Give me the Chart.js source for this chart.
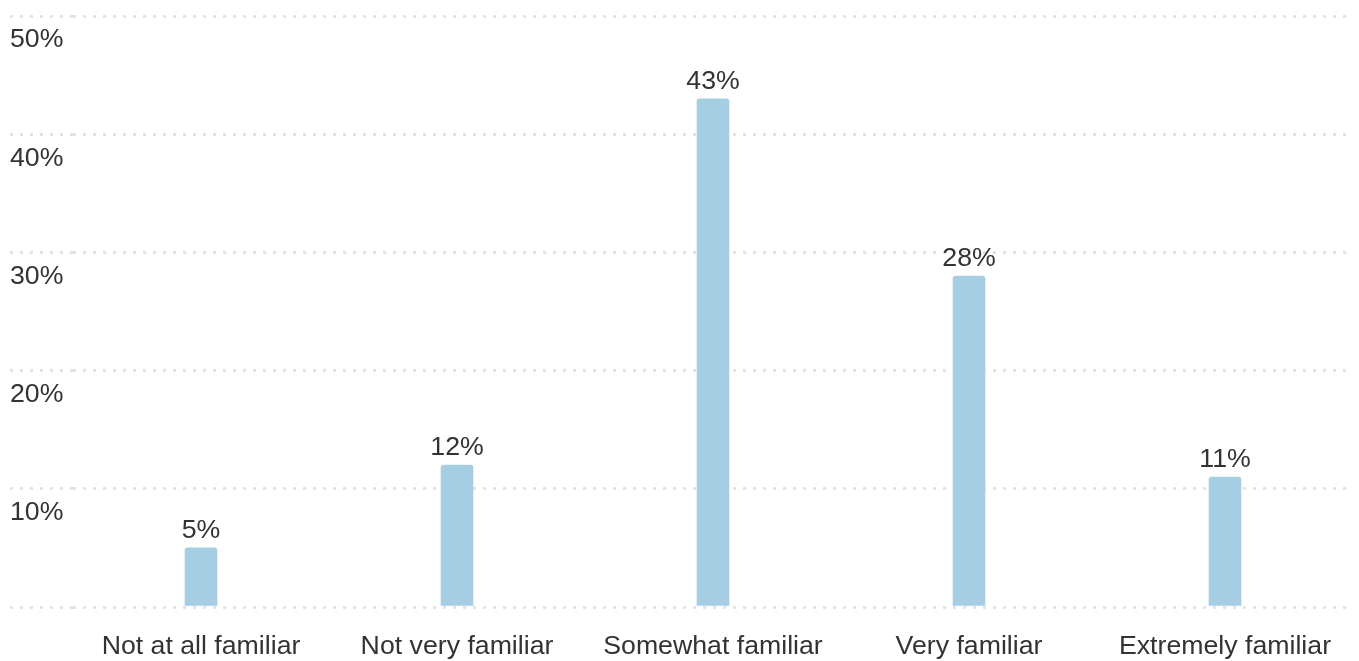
<!DOCTYPE html>
<html lang="en">
<head>
    <meta charset="utf-8">
    <title>Familiarity</title>
    <script src="https://cdn.jsdelivr.net/npm/chart.js@4/dist/chart.umd.min.js"></script>
    <style>
        html, body { margin: 0; padding: 0; background: #fff; }
        #wrap { width: 1359px; height: 661px; position: relative; }
    </style>
</head>
<body>
<div id="wrap"><canvas id="bar-chart"></canvas></div>
<script>
"use strict";

// kategorier och andel svar (procent)
const categories = ['Not at all familiar', 'Not very familiar', 'Somewhat familiar', 'Very familiar', 'Extremely familiar'];
const shares = [5, 12, 43, 28, 11];
const yTicks = [0, 10, 20, 30, 40, 50];

const textColor = '#333333';
const gridColor = '#e3e3e3';
const fontFamily = '"Liberation Sans", Arial, Helvetica, sans-serif';
const fontSize = 26.7;

// skriver ut procentsatsen ovanför varje stapel
const barLabels = {
    id: 'barLabels',
    afterDatasetsDraw(chart) {
        const ctx = chart.ctx;
        const meta = chart.getDatasetMeta(0);
        ctx.save();
        ctx.font = fontSize + 'px ' + fontFamily;
        ctx.fillStyle = textColor;
        ctx.textAlign = 'center';
        ctx.textBaseline = 'alphabetic';
        meta.data.forEach((bar, i) => {
            ctx.fillText(shares[i] + '%', bar.x, bar.y - 10);
        });
        ctx.restore();
    }
};

new Chart(document.getElementById('bar-chart'), {
    type: 'bar',
    data: {
        labels: categories,
        datasets: [{
            data: shares,
            backgroundColor: '#a6cee3',
            barThickness: 32,
            borderRadius: { topLeft: 3, topRight: 3 },
            borderSkipped: 'start'
        }]
    },
    options: {
        responsive: true,
        maintainAspectRatio: false,
        animation: false,
        layout: {
            padding: { top: 14, left: 10, right: 6, bottom: 0 }
        },
        plugins: {
            legend: { display: false },
            tooltip: { enabled: false }
        },
        scales: {
            x: {
                grid: { display: false },
                border: { display: false },
                afterFit(scale) {
                    scale.height = 54;
                },
                ticks: {
                    color: textColor,
                    font: { family: fontFamily, size: fontSize },
                    padding: 16,
                    maxRotation: 0
                }
            },
            y: {
                min: 0,
                max: 50,
                afterBuildTicks(scale) {
                    scale.ticks = yTicks.map(v => ({ value: v }));
                },
                afterFit(scale) {
                    scale.width = 63;
                },
                // prickade stödlinjer, även förlängda åt vänster under etiketterna
                border: { display: false, dash: [3, 7] },
                grid: {
                    color: gridColor,
                    lineWidth: 3,
                    tickBorderDash: [3, 7],
                    tickColor: gridColor,
                    tickWidth: 3,
                    tickLength: 63,
                    drawTicks: true
                },
                ticks: {
                    color: textColor,
                    font: { family: fontFamily, size: fontSize },
                    crossAlign: 'far',
                    padding: 0,
                    labelOffset: 24,
                    callback: v => (v === 0 ? '' : v + '%')
                }
            }
        }
    },
    plugins: [barLabels]
});
</script>
</body>
</html>
